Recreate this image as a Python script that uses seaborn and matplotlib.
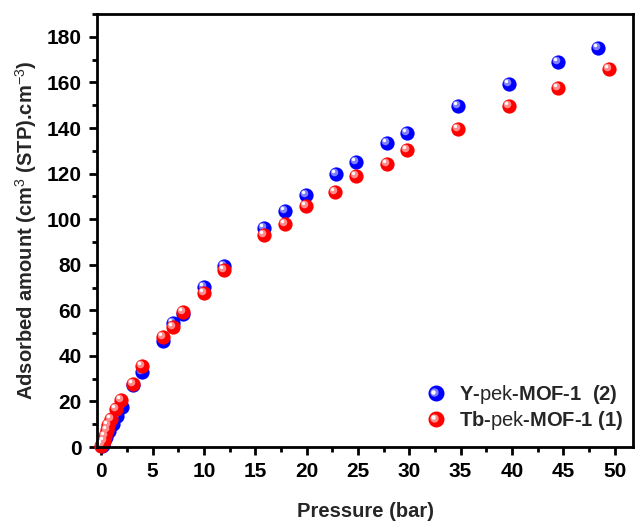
#!/usr/bin/env python3
"""Adsorption isotherms for Y-pek-MOF-1 and Tb-pek-MOF-1."""

import matplotlib

matplotlib.use("Agg")

import matplotlib.pyplot as plt
import matplotlib.transforms as mtransforms
from matplotlib.legend_handler import HandlerLine2D, HandlerTuple
from matplotlib.ticker import MultipleLocator
import pandas as pd
import seaborn as sns

# values
Y_PRESSURE = [0.05, 0.15, 0.3, 0.5, 0.8, 1.1, 1.5, 2.0, 3.05, 3.96, 5.97, 7.03, 7.94,
              10.02, 11.96, 15.89, 17.9, 19.91, 22.83, 24.78, 27.79, 29.74, 34.76,
              39.72, 44.52, 48.41]
Y_AMOUNT = [0.3, 1.0, 2.5, 4.5, 7.0, 10.0, 13.5, 17.7, 27.3, 33.0, 46.5, 54.5, 58.3,
            70.3, 79.4, 96.2, 103.6, 110.5, 119.7, 125.1, 133.5, 138.0, 149.6,
            159.5, 169.0, 175.3]
TB_PRESSURE = [0.02, 0.1, 0.23, 0.35, 0.55, 0.7, 0.97, 1.46, 1.95, 3.08, 3.96, 5.97,
               7.03, 7.94, 10.02, 11.96, 15.89, 17.9, 19.91, 22.76, 24.78, 27.79,
               29.74, 34.76, 39.72, 44.52, 49.5]
TB_AMOUNT = [0.5, 1.2, 2.5, 5.0, 7.5, 9.5, 12.3, 16.7, 20.6, 27.8, 35.5, 48.4,
             52.8, 59.3, 67.4, 77.9, 93.0, 97.7, 105.7, 111.8, 118.9, 124.4,
             130.3, 139.5, 149.6, 157.6, 165.7]

SERIES = ["Y", "Tb"]
LABELS = ["Y-$\\mathrm{pek}$-MOF-1  (2)", "Tb-$\\mathrm{pek}$-MOF-1 (1)"]
BASE = {"Y": "#0000ff", "Tb": "#ff0000"}
SHINE = {"Y": "#7f7fff", "Tb": "#ff8a8a"}


class ShiftedMarker(HandlerLine2D):
    """Legend marker nudged up-left, for the glossy highlight."""

    def __init__(self, dx, dy, **kw):
        super().__init__(**kw)
        self.dx, self.dy = dx, dy

    def create_artists(self, legend, orig_handle, xdescent, ydescent, width, height,
                       fontsize, trans):
        return super().create_artists(legend, orig_handle, xdescent - self.dx,
                                      ydescent - self.dy, width, height, fontsize, trans)


def build_frame() -> pd.DataFrame:
    y = pd.DataFrame({"pressure": Y_PRESSURE, "amount": Y_AMOUNT, "series": "Y"})
    tb = pd.DataFrame({"pressure": TB_PRESSURE, "amount": TB_AMOUNT, "series": "Tb"})
    return pd.concat([y, tb], ignore_index=True)


def main() -> None:
    sns.set_theme(style="ticks")
    plt.rcParams["font.family"] = ["Liberation Sans", "DejaVu Sans"]
    plt.rcParams["font.weight"] = "bold"
    plt.rcParams["axes.labelweight"] = "bold"
    plt.rcParams["mathtext.fontset"] = "custom"
    plt.rcParams["mathtext.rm"] = "Liberation Sans:weight=normal"
    plt.rcParams["mathtext.bf"] = "Liberation Sans:weight=bold"

    data = build_frame()
    fig = plt.figure(figsize=(6.35, 5.21), dpi=100)
    ax = fig.add_axes([0.153, 0.142, 0.844, 0.831])

    shift1 = mtransforms.ScaledTranslation(-2 / 100, 2 / 100, fig.dpi_scale_trans)
    shift2 = mtransforms.ScaledTranslation(-3 / 100, 3 / 100, fig.dpi_scale_trans)

    handles = []
    handler_map = {tuple: HandlerTuple(ndivide=1, pad=0)}
    for series in SERIES:
        sub = data[data["series"] == series]
        sns.scatterplot(data=sub, x="pressure", y="amount", color=BASE[series], s=105,
                        linewidth=0, ax=ax, legend=False, clip_on=False)
        sns.scatterplot(data=sub, x="pressure", y="amount", color=SHINE[series], s=30,
                        linewidth=0, ax=ax, legend=False, clip_on=False,
                        transform=ax.transData + shift1)
        sns.scatterplot(data=sub, x="pressure", y="amount", color="white", s=6,
                        linewidth=0, ax=ax, legend=False, clip_on=False,
                        transform=ax.transData + shift2)
        base = plt.Line2D([], [], marker="o", ls="", color=BASE[series], markersize=10.5)
        shine = plt.Line2D([], [], marker="o", ls="", color=SHINE[series], markersize=5)
        dot = plt.Line2D([], [], marker="o", ls="", color="white", markersize=2.2)
        handler_map[shine] = ShiftedMarker(-1.4, 1.4)
        handler_map[dot] = ShiftedMarker(-2.1, 2.1)
        handles.append((base, shine, dot))

    ax.set_xlim(-0.4, 51.8)
    ax.set_ylim(0, 190)
    ax.xaxis.set_major_locator(MultipleLocator(5))
    ax.xaxis.set_minor_locator(MultipleLocator(2.5))
    ax.yaxis.set_major_locator(MultipleLocator(20))
    ax.yaxis.set_minor_locator(MultipleLocator(10))
    ax.tick_params(which="both", direction="out", width=2, labelsize=15, pad=5,
                   colors="black")
    ax.tick_params(which="major", length=6)
    ax.tick_params(which="minor", length=3.5)
    for spine in ax.spines.values():
        spine.set_linewidth(2)
        spine.set_color("black")
        spine.set_visible(True)

    ax.set_xlabel("Pressure (bar)", fontsize=14.5, labelpad=15)
    ax.set_ylabel("Adsorbed amount (cm$^3$ (STP).cm$^{-3}$)", fontsize=14.5, labelpad=6)

    ax.legend(handles, LABELS, handler_map=handler_map,
              loc="lower right", bbox_to_anchor=(1.0, 0.012), frameon=False,
              prop={"size": 14.5, "weight": "bold"}, handlelength=1.0,
              handletextpad=0.65, labelspacing=0.12, borderaxespad=0.1)

    fig.savefig("out.png", dpi=100)
    plt.close(fig)


if __name__ == "__main__":
    main()
